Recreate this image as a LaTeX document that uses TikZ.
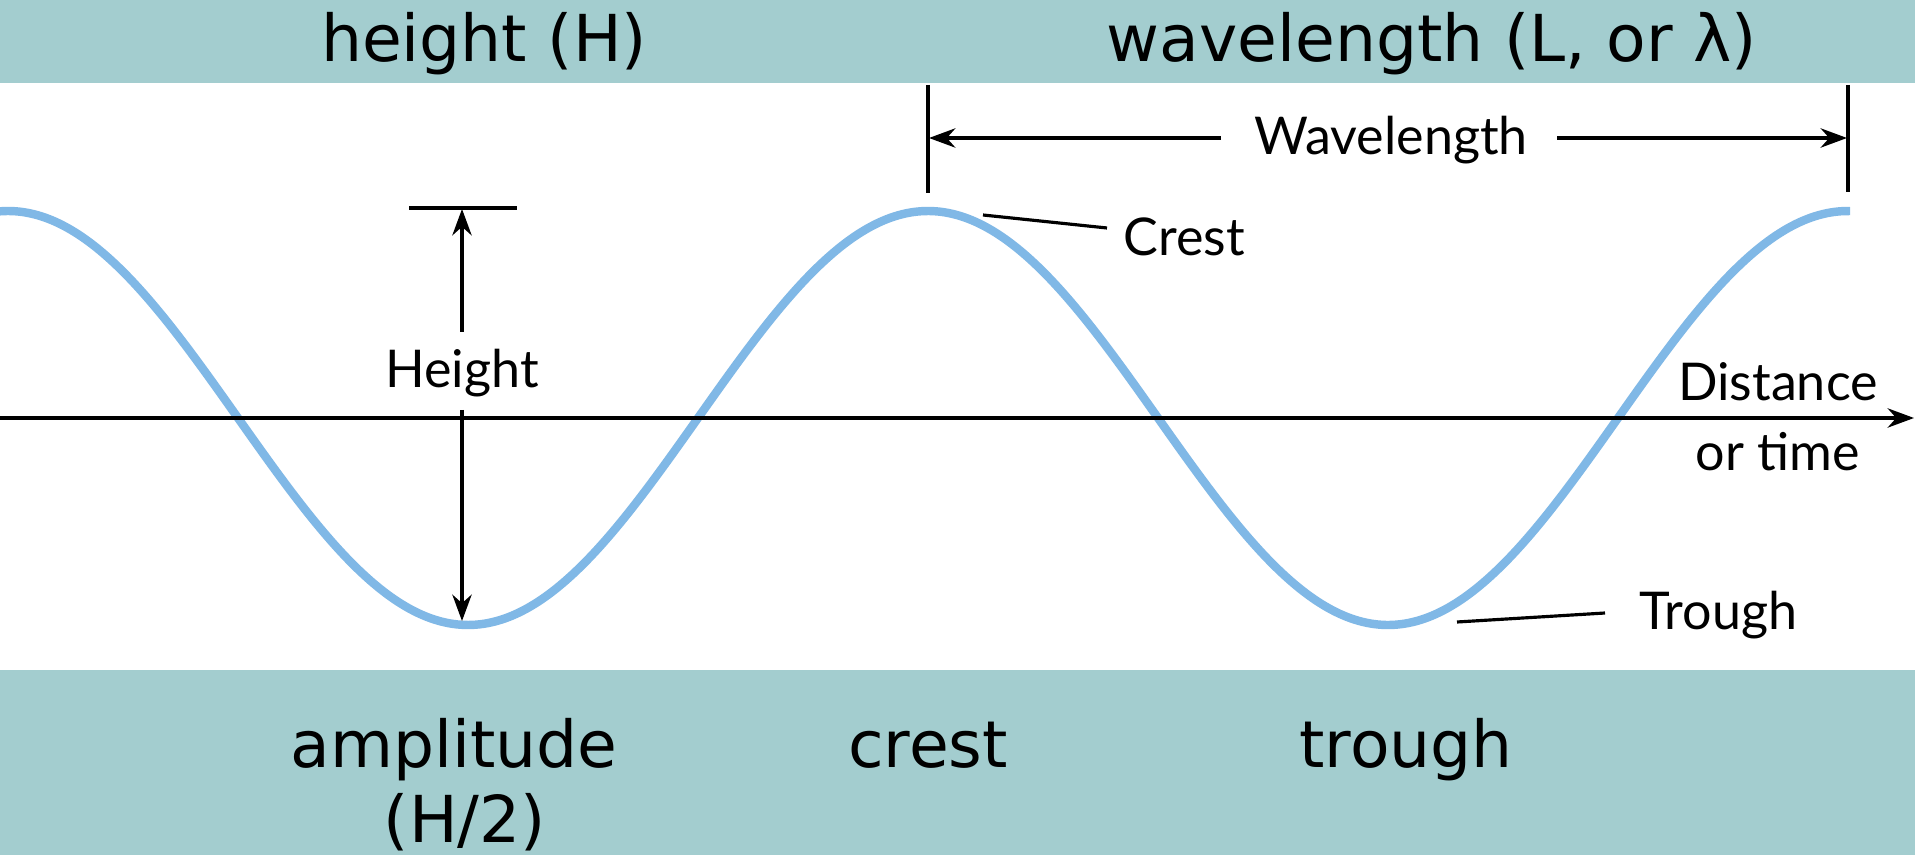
\documentclass[tikz,border=0pt]{standalone}
\usepackage{fontspec}
\setmainfont{DejaVu Sans}
\newfontfamily\labfont{Lato}
\usetikzlibrary{arrows.meta}
\definecolor{bandcol}{RGB}{163,205,207}
\definecolor{wavecol}{RGB}{128,184,230}
\tikzset{
  bandtext/.style={font=\fontsize{18.4}{22}\selectfont, inner sep=0pt, anchor=base},
  labtext/.style={font=\labfont\fontsize{14.8}{17}\selectfont, inner sep=0pt},
  dimline/.style={line width=0.9pt, black},
  dimarrow/.style={line width=0.9pt, black, -{Stealth[length=7.5pt,width=5.5pt]}},
  wave/.style={line width=2.4pt, wavecol},
}
\begin{document}
\begin{tikzpicture}[x=0.01cm, y=-0.01cm]
\useasboundingbox (0,0) rectangle (1915,855);
\fill[white] (0,0) rectangle (1915,855);
% bands
\fill[bandcol] (0,0) rectangle (1915,83);
\fill[bandcol] (0,670) rectangle (1915,855);
\node[bandtext] (tH) at (484,62) {height (H)};
\node[bandtext] (tL) at (1432,62) {wavelength (L, or λ)};
\node[bandtext] (bA) at (454,767) {amplitude};
\node[bandtext] (bA2) at (465,842) {(H/2)};
\node[bandtext] (bC) at (928,767) {crest};
\node[bandtext] (bT) at (1406,767) {trough};
% wave
\draw[wave] plot[domain=0:1850, samples=240, smooth] (\x, {418-207*cos(((\x-928)/920)*360)});
% axis
\coordinate (ax0) at (0,418);
\coordinate (ax1) at (1914,418);
\draw[dimarrow] (ax0) -- (ax1);
\node[labtext, anchor=base] (dist) at (1778,401) {Distance};
\node[labtext, anchor=base] (time) at (1778,471) {or time};
% height dimension
\coordinate (htl) at (409,208);
\coordinate (htr) at (517,208);
\coordinate (httop) at (462,209);
\coordinate (htbot) at (462,621);
\draw[dimline] (htl) -- (htr);
\node[labtext, anchor=base] (height) at (462,388) {Height};
\coordinate (hu) at (462,332);
\coordinate (hd) at (462,410);
\draw[dimarrow] (hu) -- (httop);
\draw[dimarrow] (hd) -- (htbot);
% wavelength dimension
\coordinate (wl1) at (928,85);
\coordinate (wl2) at (928,193);
\coordinate (wr1) at (1848,85);
\coordinate (wr2) at (1848,192);
\draw[dimline] (wl1) -- (wl2);
\draw[dimline] (wr1) -- (wr2);
\node[labtext, anchor=base] (wlen) at (1391,155) {Wavelength};
\coordinate (wal) at (1221,138);
\coordinate (war) at (1557,138);
\coordinate (walt) at (929,138);
\coordinate (wart) at (1847,138);
\draw[dimarrow] (wal) -- (walt);
\draw[dimarrow] (war) -- (wart);
% crest
\node[labtext, anchor=base west] (crest) at (1123,256) {Crest};
\coordinate (cr0) at (983,215);
\coordinate (cr1) at (1107,228);
\draw[dimline] (cr0) -- (cr1);
% trough
\node[labtext, anchor=base west] (trough) at (1639,629) {Trough};
\coordinate (tr0) at (1457,622);
\coordinate (tr1) at (1605,613);
\draw[dimline] (tr0) -- (tr1);
\end{tikzpicture}
\end{document}
